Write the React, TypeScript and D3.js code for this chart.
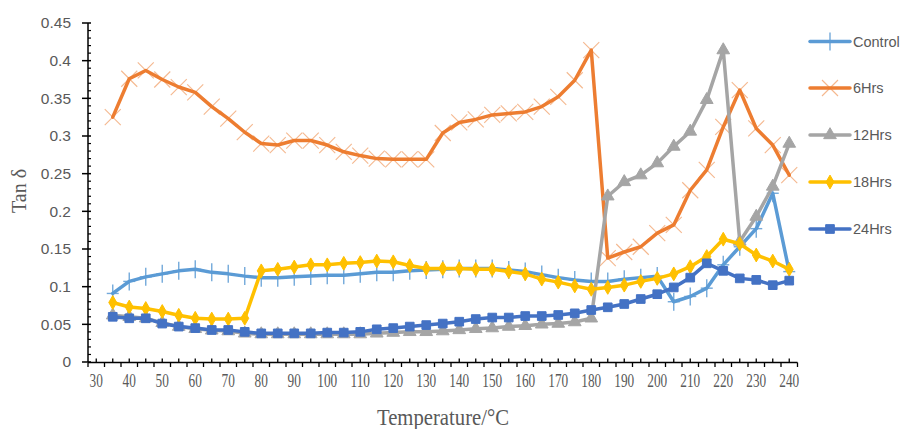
import React from "react";
import * as d3 from "d3";

const temps = [35, 40, 45, 50, 55, 60, 65, 70, 75, 80, 85, 90, 95, 100, 105, 110, 115, 120, 125, 130, 135, 140, 145, 150, 155, 160, 165, 170, 175, 180, 185, 190, 195, 200, 205, 210, 215, 220, 225, 230, 235, 240];

const control = [0.091, 0.107, 0.113, 0.117, 0.121, 0.123, 0.119, 0.117, 0.114, 0.112, 0.112, 0.113, 0.114, 0.115, 0.115, 0.117, 0.119, 0.119, 0.121, 0.122, 0.123, 0.124, 0.124, 0.124, 0.122, 0.12, 0.116, 0.112, 0.109, 0.107, 0.107, 0.11, 0.112, 0.114, 0.08, 0.087, 0.098, 0.129, 0.153, 0.177, 0.224, 0.12];
const hrs6 = [0.325, 0.376, 0.387, 0.375, 0.365, 0.358, 0.339, 0.323, 0.305, 0.29, 0.288, 0.294, 0.294, 0.288, 0.279, 0.274, 0.27, 0.269, 0.269, 0.269, 0.304, 0.318, 0.322, 0.328, 0.33, 0.332, 0.339, 0.352, 0.374, 0.414, 0.138, 0.146, 0.153, 0.171, 0.182, 0.228, 0.255, 0.312, 0.361, 0.31, 0.288, 0.248];
const hrs12 = [0.062, 0.06, 0.058, 0.052, 0.047, 0.044, 0.042, 0.041, 0.038, 0.037, 0.037, 0.037, 0.037, 0.037, 0.037, 0.037, 0.038, 0.039, 0.04, 0.04, 0.041, 0.0425, 0.044, 0.045, 0.047, 0.048, 0.05, 0.051, 0.053, 0.058, 0.22, 0.239, 0.248, 0.264, 0.286, 0.306, 0.348, 0.414, 0.16, 0.193, 0.233, 0.29];
const hrs18 = [0.079, 0.073, 0.071, 0.067, 0.062, 0.058, 0.057, 0.057, 0.058, 0.121, 0.123, 0.126, 0.129, 0.129, 0.131, 0.132, 0.134, 0.133, 0.128, 0.124, 0.124, 0.124, 0.123, 0.123, 0.12, 0.117, 0.11, 0.106, 0.101, 0.0965, 0.099, 0.102, 0.107, 0.111, 0.117, 0.1265, 0.14, 0.163, 0.157, 0.142, 0.134, 0.123];
const hrs24 = [0.06, 0.058, 0.058, 0.051, 0.047, 0.045, 0.0425, 0.0425, 0.04, 0.038, 0.038, 0.038, 0.038, 0.039, 0.039, 0.04, 0.0434, 0.045, 0.047, 0.049, 0.051, 0.0535, 0.057, 0.059, 0.059, 0.061, 0.061, 0.0624, 0.0646, 0.069, 0.0726, 0.077, 0.0836, 0.09, 0.099, 0.112, 0.131, 0.121, 0.111, 0.109, 0.102, 0.108];

const seriesNames = ["Control", "6Hrs", "12Hrs", "18Hrs", "24Hrs"];
const seriesValues = [control, hrs6, hrs12, hrs18, hrs24];
const seriesColors = ["#5B9BD5", "#ED7D31", "#A5A5A5", "#FFC000", "#4472C4"];
const markerKinds = ["plus", "x", "triangle", "diamond", "square"];

const xTickLabels = [30, 40, 50, 60, 70, 80, 90, 100, 110, 120, 130, 140, 150, 160, 170, 180, 190, 200, 210, 220, 230, 240];
const yTicks = [0, 0.05, 0.1, 0.15, 0.2, 0.25, 0.3, 0.35, 0.4, 0.45];

function Marker({ kind, color, x, y }: { kind: string; color: string; x: number; y: number }) {
  const t = `translate(${x},${y})`;
  if (kind === "plus") {
    return (
      <g transform={t} stroke={color} strokeWidth={1.4} opacity={0.85}>
        <line x1={0} y1={-9} x2={0} y2={9} />
        <line x1={-6} y1={0} x2={6} y2={0} />
      </g>
    );
  }
  if (kind === "x") {
    return (
      <g transform={t} stroke={color} strokeWidth={1.1} opacity={0.55}>
        <line x1={-8} y1={-8} x2={8} y2={8} />
        <line x1={-8} y1={8} x2={8} y2={-8} />
      </g>
    );
  }
  const sym = kind === "triangle" ? d3.symbolTriangle : kind === "diamond" ? d3.symbolDiamond : d3.symbolSquare;
  const size = kind === "triangle" ? 70 : kind === "diamond" ? 55 : 75;
  const p = d3.symbol().type(sym).size(size)() as string;
  return <path transform={t} d={p} fill={color} stroke={color} strokeWidth={1} />;
}

export default function App() {
  const width = 909;
  const height = 429;
  const x = d3.scaleLinear().domain([27.5, 242.5]).range([88, 797.5]);
  const y = d3.scaleLinear().domain([0, 0.45]).range([362, 23]);
  const line = d3
    .line<number>()
    .x((_, i) => x(temps[i]))
    .y((d) => y(d));

  const boundaries = d3.range(27.5, 243, 5);
  const centers = d3.range(30, 241, 5);
  const minorY = d3.range(0, 0.451, 0.01).filter((v) => Math.abs(v / 0.05 - Math.round(v / 0.05)) > 0.01);

  const legendY = [41.5, 88, 135, 182, 229];

  return (
    <svg width={width} height={height} style={{ position: "absolute", left: 0, top: 0, background: "#fff" }}>
      <rect width={width} height={height} fill="#fff" />
      {/* Y axis */}
      <line x1={88} y1={23} x2={88} y2={362} stroke="#000" strokeWidth={1.5} />
      {yTicks.map((v) => (
        <g key={"yt" + v}>
          <line x1={82} y1={y(v)} x2={91} y2={y(v)} stroke="#000" strokeWidth={1.5} />
          <text
            x={71}
            y={y(v)}
            dy="0.35em"
            textAnchor="end"
            fontFamily="'Liberation Sans', Arial, sans-serif"
            fontSize={15.5}
            fill="#595959"
          >
            {v === 0 ? "0" : String(+v.toFixed(2))}
          </text>
        </g>
      ))}
      {minorY.map((v) => (
        <line key={"ym" + v} x1={88} y1={y(v)} x2={91} y2={y(v)} stroke="#000" strokeWidth={1.2} />
      ))}
      {/* X axis */}
      <line x1={88} y1={362.5} x2={797.5} y2={362.5} stroke="#000" strokeWidth={1.5} />
      {boundaries.map((v) => (
        <line key={"xb" + v} x1={x(v)} y1={362.5} x2={x(v)} y2={367} stroke="#000" strokeWidth={1.3} />
      ))}
      {centers.map((v) => (
        <line key={"xc" + v} x1={x(v)} y1={358.5} x2={x(v)} y2={362.5} stroke="#000" strokeWidth={1.3} />
      ))}
      {xTickLabels.map((v) => (
        <text
          key={"xl" + v}
          transform={`translate(${x(v)},387) scale(0.7,1)`}
          textAnchor="middle"
          fontFamily="'Liberation Serif', 'Times New Roman', serif"
          fontSize={19}
          fill="#595959"
        >
          {v}
        </text>
      ))}
      {/* Axis titles */}
      <text
        transform="translate(443,425) scale(0.9,1)"
        textAnchor="middle"
        fontFamily="'Liberation Serif', 'Times New Roman', serif"
        fontSize={23}
        fill="#595959"
      >
        Temperature/°C
      </text>
      <text
        transform="translate(26,191) rotate(-90)"
        textAnchor="middle"
        fontFamily="'Liberation Serif', 'Times New Roman', serif"
        fontSize={20}
        fill="#595959"
      >
        Tan δ
      </text>
      {/* Series */}
      {seriesValues.map((vals, si) => (
        <g key={"s" + si}>
          <path
            d={line(vals) as string}
            fill="none"
            stroke={seriesColors[si]}
            strokeWidth={3.5}
            strokeLinejoin="round"
            strokeLinecap="round"
          />
          {vals.map((v, i) => (
            <Marker key={i} kind={markerKinds[si]} color={seriesColors[si]} x={x(temps[i])} y={y(v)} />
          ))}
        </g>
      ))}
      {/* Legend */}
      {seriesNames.map((name, si) => (
        <g key={"lg" + si}>
          <line x1={810} y1={legendY[si]} x2={850} y2={legendY[si]} stroke={seriesColors[si]} strokeWidth={3.5} strokeLinecap="round" />
          <Marker kind={markerKinds[si]} color={seriesColors[si]} x={830} y={legendY[si]} />
          <text
            x={853}
            y={legendY[si]}
            dy="0.35em"
            fontFamily="'Liberation Sans', Arial, sans-serif"
            fontSize={14.5}
            fill="#595959"
          >
            {name}
          </text>
        </g>
      ))}
    </svg>
  );
}
